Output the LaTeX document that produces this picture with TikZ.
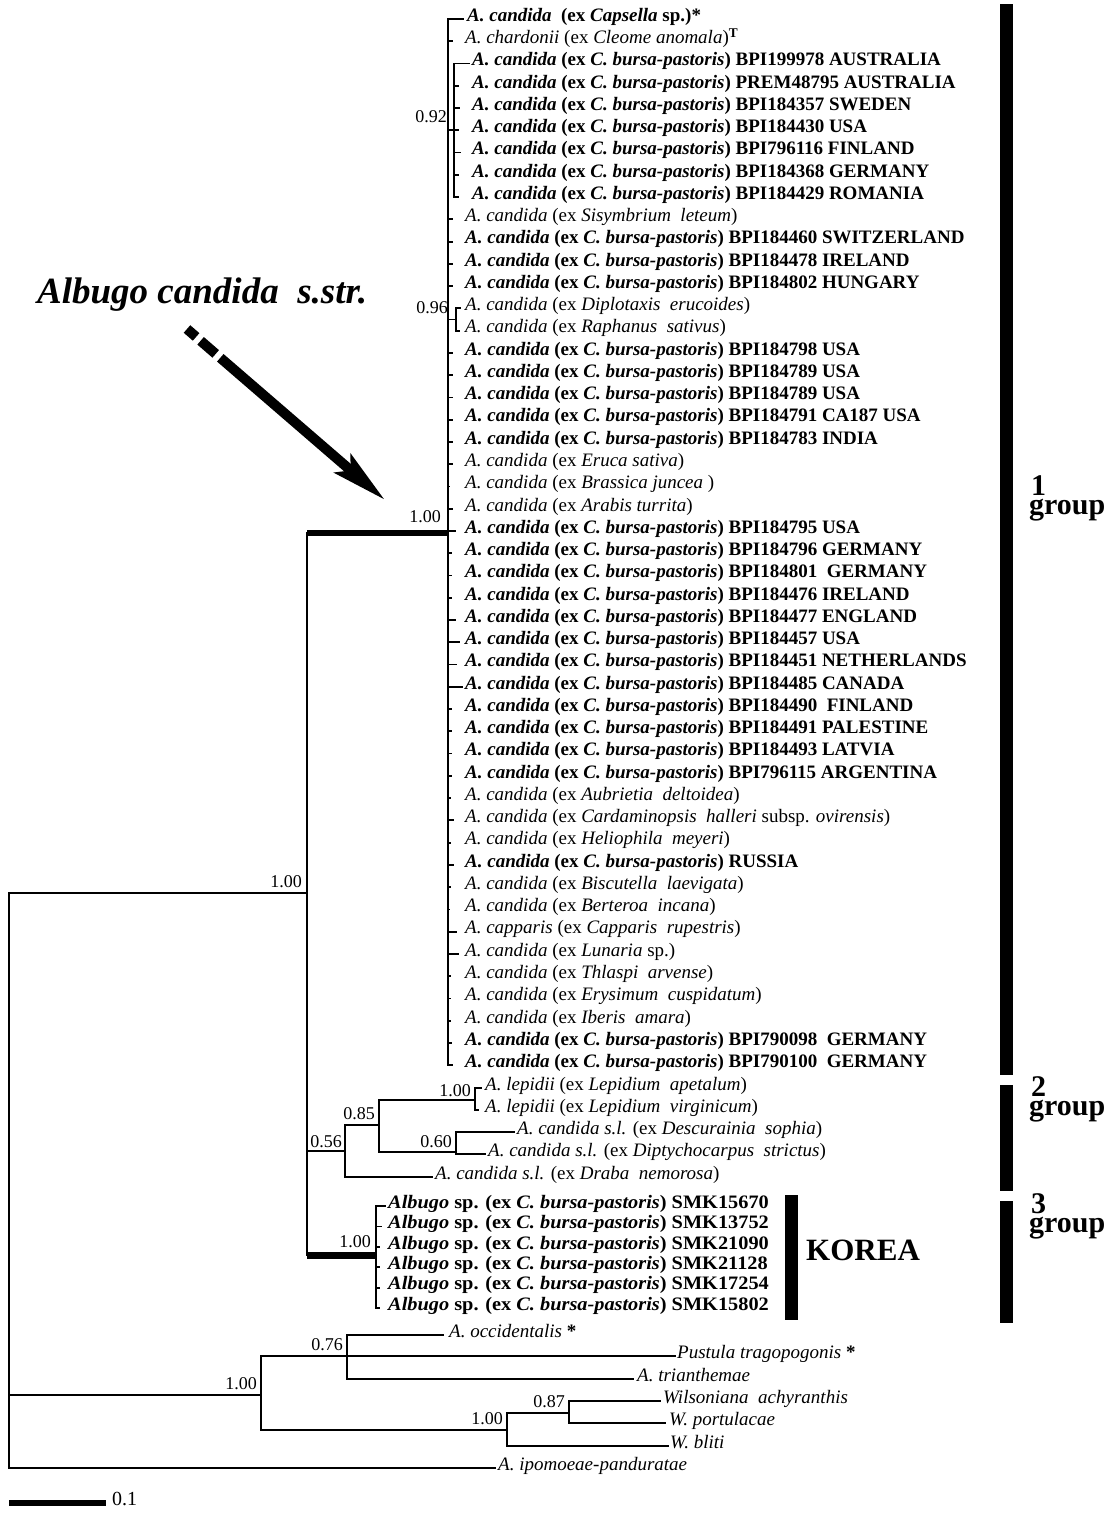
\documentclass[tikz,border=0pt]{standalone}
\usepackage{fontspec}
\usepackage{graphicx}
\setmainfont{Liberation Serif}
\usetikzlibrary{arrows.meta}
\newcommand\bsc[1]{\scalebox{1.07}[1]{#1}}
\newcommand\cbp[1]{\textbf{\textit{A. candida} (ex \textit{C. bursa-pastoris}) #1}}
\newcommand\cex[1]{\textit{A. candida} (ex \textit{#1})}
\newcommand\csl[1]{\textit{A. candida s.l.} (ex \textit{#1})}
\newcommand\alb[1]{\bsc{\textbf{\textit{Albugo} sp. (ex \textit{C. bursa-pastoris}) #1}}}
\newcommand\row[5]{%
  \pgfmathsetmacro\ry{19+(#1-1)*22.26}%
  \draw[br] (#2,\ry) -- (#3,\ry);
  \node[leaf] (r#1) at (#4,\ry) {#5};}
\begin{document}
\begin{tikzpicture}[x=1pt,y=-1pt,
  br/.style={line width=1.8pt, line cap=rect},
  thick br/.style={line width=6.5pt},
  leaf/.style={anchor=mid west, inner sep=0pt, font=\fontsize{19}{21}\selectfont},
  sup/.style={anchor=south east, inner sep=0pt, font=\fontsize{18}{18}\selectfont},
  grp/.style={anchor=north west, inner sep=0pt, align=left, font=\fontsize{30}{19}\selectfont\bfseries},
  barfill/.style={fill=black, draw=none}]
\useasboundingbox (0,0) rectangle (1111,1516);

% ---------------- group 1 clade ----------------
\coordinate (g1) at (448,533);
\draw[br] (448,19) -- (448,1065.22);
% 0.92 subclade
\draw[br] (448,130.3) -- (454,130.3);
\draw[br] (454,63.52) -- (454,197.08);
\node[sup] (s092) at (447,123) {0.92};
% 0.96 subclade
\draw[br] (448,319.5) -- (456,319.5);
\draw[br] (456,308.38) -- (456,330.64);
\node[sup] (s096) at (448,314) {0.96};

\row{1}{448}{463}{467}{\textbf{\textit{A. candida}\ \ (ex \textit{Capsella} sp.)*}}
\row{2}{448}{452}{465}{\textit{A. chardonii} (ex \textit{Cleome anomala})\textsuperscript{\textbf{T}}}
\row{3}{454}{469}{472}{\cbp{BPI199978 AUSTRALIA}}
\row{4}{454}{458}{472}{\cbp{PREM48795 AUSTRALIA}}
\row{5}{454}{459}{472}{\cbp{BPI184357 SWEDEN}}
\row{6}{454}{458}{472}{\cbp{BPI184430 USA}}
\row{7}{454}{460}{472}{\cbp{BPI796116 FINLAND}}
\row{8}{454}{458}{472}{\cbp{BPI184368 GERMANY}}
\row{9}{454}{458}{472}{\cbp{BPI184429 ROMANIA}}
\row{10}{448}{452}{465}{\cex{Sisymbrium\ \ leteum}}
\row{11}{448}{452}{465}{\cbp{BPI184460 SWITZERLAND}}
\row{12}{448}{452}{465}{\cbp{BPI184478 IRELAND}}
\row{13}{448}{452}{465}{\cbp{BPI184802 HUNGARY}}
\row{14}{456}{460}{465}{\cex{Diplotaxis\ \ erucoides}}
\row{15}{456}{459}{465}{\cex{Raphanus\ \ sativus}}
\row{16}{448}{452}{465}{\cbp{BPI184798 USA}}
\row{17}{448}{452}{465}{\cbp{BPI184789 USA}}
\row{18}{448}{452}{465}{\cbp{BPI184789 USA}}
\row{19}{448}{452}{465}{\cbp{BPI184791 CA187 USA}}
\row{20}{448}{452}{465}{\cbp{BPI184783 INDIA}}
\row{21}{448}{452}{465}{\cex{Eruca sativa}}
\row{22}{448}{449}{465}{\cex{Brassica juncea\ }}
\row{23}{448}{452}{465}{\cex{Arabis turrita}}
\row{24}{448}{455}{465}{\cbp{BPI184795 USA}}
\row{25}{448}{451}{465}{\cbp{BPI184796 GERMANY}}
\row{26}{448}{451}{465}{\cbp{BPI184801\ \ GERMANY}}
\row{27}{448}{451}{465}{\cbp{BPI184476 IRELAND}}
\row{28}{448}{455}{465}{\cbp{BPI184477 ENGLAND}}
\row{29}{448}{459}{465}{\cbp{BPI184457 USA}}
\row{30}{448}{456}{465}{\cbp{BPI184451 NETHERLANDS}}
\row{31}{448}{462}{465}{\cbp{BPI184485 CANADA}}
\row{32}{448}{451}{465}{\cbp{BPI184490\ \ FINLAND}}
\row{33}{448}{451}{465}{\cbp{BPI184491 PALESTINE}}
\row{34}{448}{451}{465}{\cbp{BPI184493 LATVIA}}
\row{35}{448}{451}{465}{\cbp{BPI796115 ARGENTINA}}
\row{36}{448}{450}{465}{\cex{Aubrietia\ \ deltoidea}}
\row{37}{448}{453}{465}{\textit{A. candida} (ex \textit{Cardaminopsis\ \ halleri} subsp. \textit{ovirensis})}
\row{38}{448}{450}{465}{\cex{Heliophila\ \ meyeri}}
\row{39}{448}{453}{465}{\cbp{RUSSIA}}
\row{40}{448}{450}{465}{\cex{Biscutella\ \ laevigata}}
\row{41}{448}{449}{465}{\cex{Berteroa\ \ incana}}
\row{42}{448}{456}{465}{\textit{A. capparis} (ex \textit{Capparis\ \ rupestris})}
\row{43}{448}{458}{465}{\textit{A. candida} (ex \textit{Lunaria} sp.)}
\row{44}{448}{450}{465}{\cex{Thlaspi\ \ arvense}}
\row{45}{448}{450}{465}{\cex{Erysimum\ \ cuspidatum}}
\row{46}{448}{450}{465}{\cex{Iberis\ \ amara}}
\row{47}{448}{451}{465}{\cbp{BPI790098\ \ GERMANY}}
\row{48}{448}{452}{465}{\cbp{BPI790100\ \ GERMANY}}

% ---------------- ingroup backbone ----------------
\coordinate (root) at (9,893);
\coordinate (ing) at (307,893);
\draw[thick br] (307,533) -- (g1);
\node[sup] (s100g1) at (441,523) {1.00};
\draw[br] (307,533) -- (307,1255);
\draw[br] (root) -- (ing);
\node[sup] (s100in) at (302,888) {1.00};

% ---------------- group 2 ----------------
\draw[br] (307,1151) -- (345,1151);
\node[sup] (s056) at (342,1148) {0.56};
\draw[br] (345,1125) -- (345,1177);
\draw[br] (345,1125) -- (379,1125);
\node[sup] (s085) at (375,1120) {0.85};
\draw[br] (379,1100) -- (379,1152);
\draw[br] (379,1100) -- (475,1100);
\node[sup] (s100lp) at (471,1097) {1.00};
\draw[br] (475,1088) -- (475,1110);
\draw[br] (475,1088) -- (481,1088);
\node[leaf] (lp1) at (485,1088) {\textit{A. lepidii} (ex \textit{Lepidium\ \ apetalum})};
\draw[br] (475,1110) -- (478,1110);
\node[leaf] (lp2) at (485,1110) {\textit{A. lepidii} (ex \textit{Lepidium\ \ virginicum})};
\draw[br] (379,1152) -- (456,1152);
\node[sup] (s060) at (452,1148) {0.60};
\draw[br] (456,1132) -- (456,1154);
\draw[br] (456,1132) -- (514,1132);
\node[leaf] (ds) at (517,1132) {\csl{Descurainia\ \ sophia}};
\draw[br] (456,1154) -- (485,1154);
\node[leaf] (dp) at (488,1154) {\csl{Diptychocarpus\ \ strictus}};
\draw[br] (345,1177) -- (432,1177);
\node[leaf] (dr) at (435,1177) {\csl{Draba\ \ nemorosa}};

% ---------------- group 3 (Korea) ----------------
\draw[line width=7pt] (307,1255) -- (376,1255);
\node[sup] (s100k) at (371,1248) {1.00};
\draw[br] (376,1206) -- (376,1308);
\draw[br] (376,1206) -- (385,1206);
\node[leaf] (k1) at (388,1206) {\alb{SMK15670}};
\draw[br] (376,1226.4) -- (381,1226.4);
\node[leaf] (k2) at (388,1226.4) {\alb{SMK13752}};
\draw[br] (376,1246.8) -- (379,1246.8);
\node[leaf] (k3) at (388,1246.8) {\alb{SMK21090}};
\draw[br] (376,1267.2) -- (379,1267.2);
\node[leaf] (k4) at (388,1267.2) {\alb{SMK21128}};
\draw[br] (376,1287.6) -- (379,1287.6);
\node[leaf] (k5) at (388,1287.6) {\alb{SMK17254}};
\draw[br] (376,1308) -- (379,1308);
\node[leaf] (k6) at (388,1308) {\alb{SMK15802}};
\fill[barfill] (785,1195) rectangle (798,1320);
\node[anchor=mid west, inner sep=0pt, font=\fontsize{31}{31}\selectfont\bfseries] (korea) at (806,1258) {KOREA};

% ---------------- outgroups ----------------
\draw[br] (9,893) -- (9,1468);
\draw[br] (9,1395) -- (261,1395);
\node[sup] (s100o) at (257,1390) {1.00};
\draw[br] (261,1356) -- (261,1430);
\draw[br] (261,1356) -- (347,1356);
\node[sup] (s076) at (343,1351) {0.76};
\draw[br] (347,1335) -- (347,1379);
\draw[br] (347,1335) -- (443,1335);
\node[leaf] (oc) at (449,1335) {\textit{A. occidentalis} \textbf{*}};
\draw[br] (347,1356) -- (675,1356);
\node[leaf] (pt) at (677,1356) {\textit{Pustula tragopogonis} \textbf{*}};
\draw[br] (347,1379) -- (633,1379);
\node[leaf] (tr) at (637,1379) {\textit{A. trianthemae}};
\draw[br] (261,1430) -- (507,1430);
\node[sup] (s100w) at (503,1425) {1.00};
\draw[br] (507,1413) -- (507,1446);
\draw[br] (507,1413) -- (569,1413);
\node[sup] (s087) at (565,1408) {0.87};
\draw[br] (569,1401) -- (569,1423);
\draw[br] (569,1401) -- (660,1401);
\node[leaf] (wa) at (663,1401) {\textit{Wilsoniana\ \ achyranthis}};
\draw[br] (569,1423) -- (665,1423);
\node[leaf] (wp) at (669,1423) {\textit{W. portulacae}};
\draw[br] (507,1446) -- (668,1446);
\node[leaf] (wb) at (670,1446) {\textit{W. bliti}};
\draw[br] (9,1468) -- (495,1468);
\node[leaf] (ip) at (498,1468) {\textit{A. ipomoeae-panduratae}};

% scale bar
\draw[line width=6pt] (9,1503) -- (106,1503);
\node[leaf, font=\fontsize{20}{20}\selectfont] (sc) at (112,1503) {0.1};

% ---------------- group bars ----------------
\fill[barfill] (1000,4) rectangle (1013,1075);
\fill[barfill] (1000,1085) rectangle (1013,1191);
\fill[barfill] (1000,1201) rectangle (1013,1323);
\node[grp] (gr1) at (1029,475) {\hspace*{2pt}1\\group};
\node[grp] (gr2) at (1029,1076) {\hspace*{2pt}2\\group};
\node[grp] (gr3) at (1029,1193) {\hspace*{2pt}3\\group};

% ---------------- annotation ----------------
\node[anchor=base west, inner sep=0pt, font=\fontsize{37}{37}\selectfont\bfseries\itshape] (title) at (37,303) {Albugo candida\ \ s.str.};
\coordinate (a0) at (187,329);
\coordinate (a1) at (196.1,336.9);
\coordinate (a2) at (200.6,340.8);
\coordinate (a3) at (215.7,353.9);
\coordinate (a4) at (220.3,357.8);
\coordinate (tip) at (385,500);
\draw[line width=10pt] (a0) -- (a1);
\draw[line width=10pt] (a2) -- (a3);
\draw[line width=10pt, -{Stealth[length=55pt, width=24pt, inset=10pt]}] (a4) -- (tip);
\end{tikzpicture}
\end{document}
